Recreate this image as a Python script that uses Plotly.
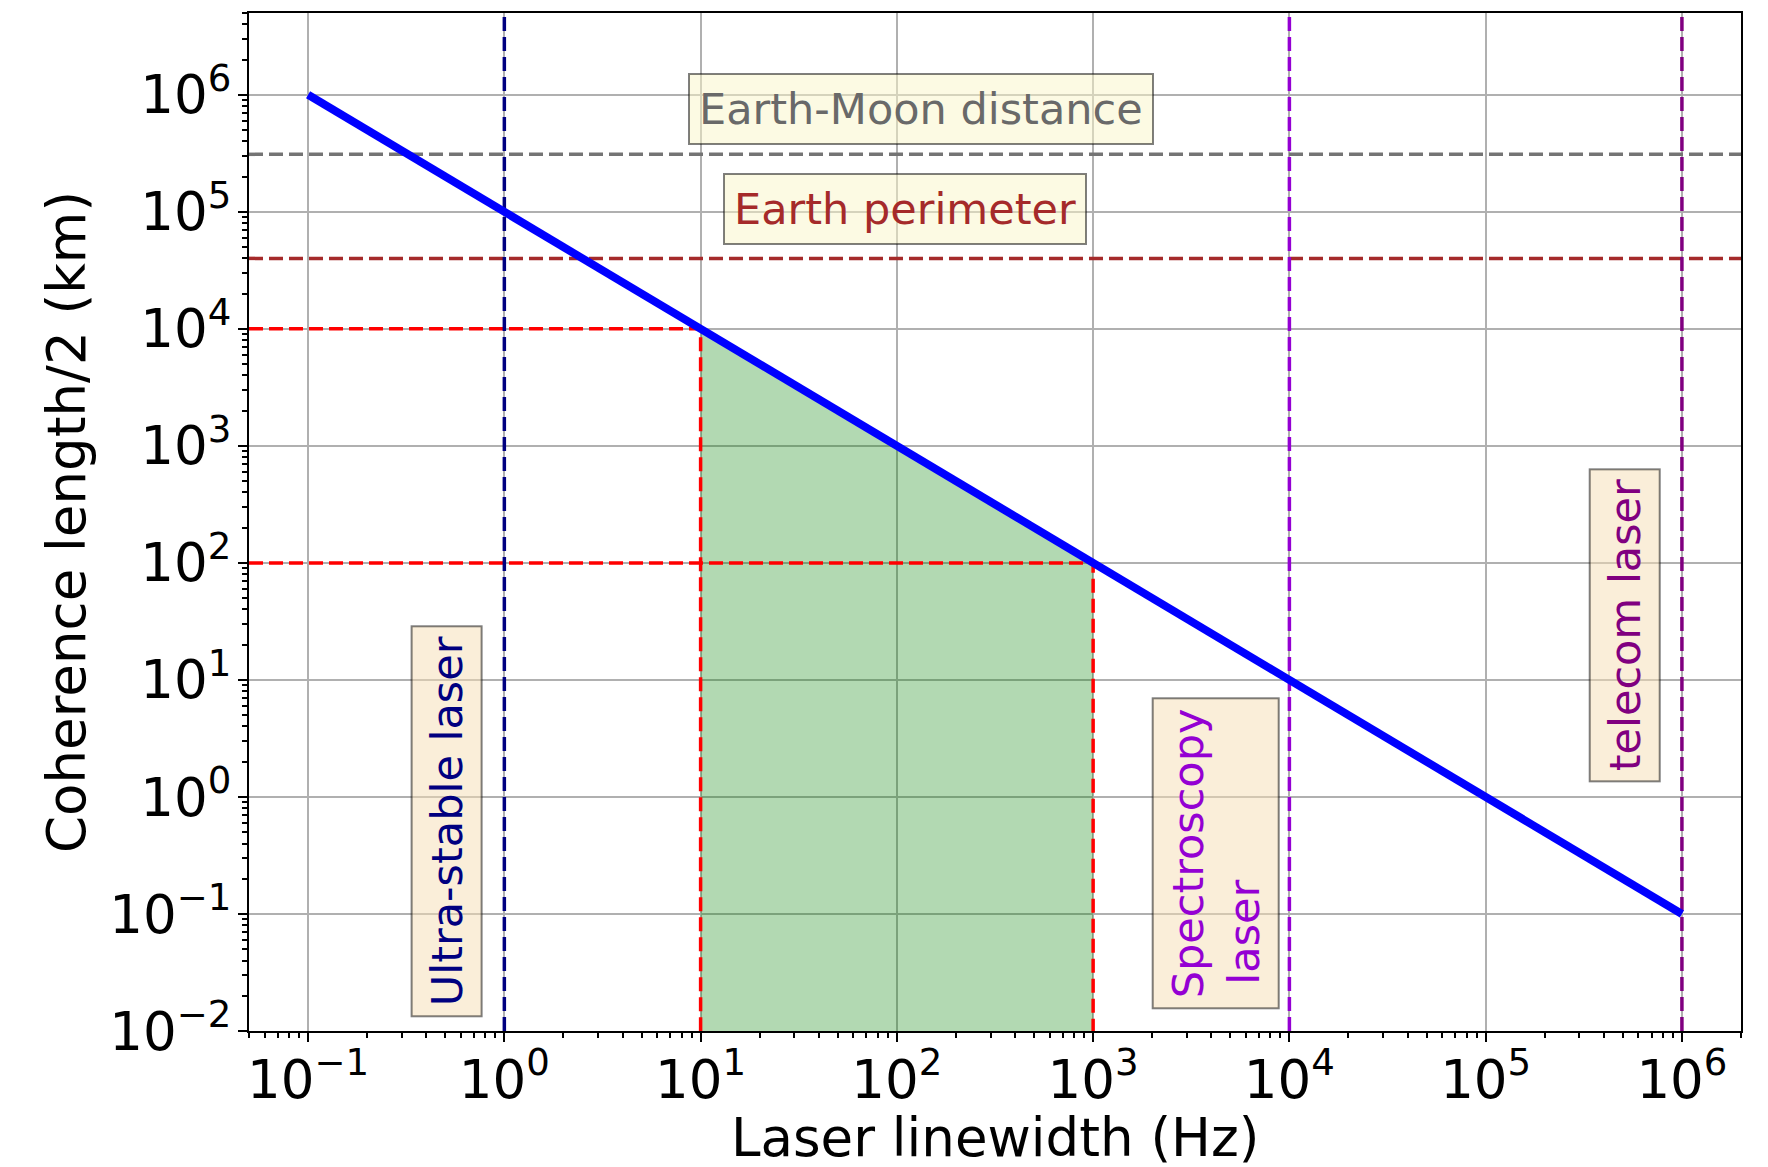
import numpy as np
import plotly.graph_objects as go

# ---------------- data ----------------
linewidth_hz = [0.1, 1, 10, 100, 1e3, 1e4, 1e5, 1e6]
coherence_km = [1e6, 1e5, 1e4, 1e3, 1e2, 1e1, 1e0, 1e-1]

x_lim = [0.05, 2e6]
y_lim = [1e-2, 5e6]

earth_moon_km = 3.1e5
earth_perimeter_km = 4.0e4

band_x = [10, 100, 1000]
band_y = [1e4, 1e3, 1e2]

laser_x = [1, 1e4, 1e6]
laser_colors = ["navy", "darkviolet", "purple"]

x_tick_vals = [0.1, 1, 10, 100, 1e3, 1e4, 1e5, 1e6]
x_tick_text = ["10<sup>−1</sup>", "10<sup>0</sup>", "10<sup>1</sup>", "10<sup>2</sup>",
               "10<sup>3</sup>", "10<sup>4</sup>", "10<sup>5</sup>", "10<sup>6</sup>"]
y_tick_vals = [1e-2, 1e-1, 1, 10, 100, 1e3, 1e4, 1e5, 1e6]
y_tick_text = ["10<sup>−2</sup>", "10<sup>−1</sup>", "10<sup>0</sup>", "10<sup>1</sup>",
               "10<sup>2</sup>", "10<sup>3</sup>", "10<sup>4</sup>", "10<sup>5</sup>",
               "10<sup>6</sup>"]

# label texts and anchor positions (data units)
label_text = ["Earth-Moon distance", "Earth perimeter", "Ultra-stable laser",
              "Spectroscopy<br>\u00a0laser", "telecom laser"]
label_x = [133, 110, 0.507, 4227, 5.1e5]
label_y = [7.5e5, 1.05e5, 0.625, 0.33, 29]
label_color = ["dimgray", "brown", "navy", "darkviolet", "purple"]
label_angle = [0, 0, -90, -90, -90]
label_bg = ["rgba(250,245,200,0.5)", "rgba(250,245,200,0.5)",
            "rgba(245,222,179,0.5)", "rgba(245,222,179,0.5)", "rgba(245,222,179,0.5)"]

FONT = "DejaVu Sans"


def minor_vals(lo, hi):
    out = []
    for e in range(int(np.floor(np.log10(lo))), int(np.ceil(np.log10(hi))) + 1):
        for m in range(2, 10):
            v = m * 10.0 ** e
            if lo <= v <= hi:
                out.append(v)
    return out


fig = go.Figure()

# green band under the curve between 10 Hz and 1 kHz
fig.add_trace(go.Scatter(
    x=[band_x[0]] + band_x + [band_x[-1]],
    y=[y_lim[0]] + band_y + [y_lim[0]],
    fill="toself", fillcolor="rgba(0,128,0,0.3)",
    line=dict(width=0), mode="lines", hoverinfo="skip", showlegend=False))

dash = "14px,6px"
LW = 3.5
# reference horizontal lines
fig.add_trace(go.Scatter(x=x_lim, y=[earth_moon_km] * 2, mode="lines",
                         line=dict(color="#747474", width=LW, dash=dash), showlegend=False))
fig.add_trace(go.Scatter(x=x_lim, y=[earth_perimeter_km] * 2, mode="lines",
                         line=dict(color="brown", width=LW, dash=dash), showlegend=False))

# red guide lines for band limits
for bx, by in [(band_x[0], band_y[0]), (band_x[-1], band_y[-1])]:
    fig.add_trace(go.Scatter(x=[x_lim[0], bx, bx], y=[by, by, y_lim[0]], mode="lines",
                             line=dict(color="red", width=LW, dash=dash), showlegend=False))

# laser vertical lines
for lx, lc in zip(laser_x, laser_colors):
    fig.add_trace(go.Scatter(x=[lx, lx], y=y_lim, mode="lines",
                             line=dict(color=lc, width=LW, dash=dash), showlegend=False))

# main curve
fig.add_trace(go.Scatter(x=linewidth_hz, y=coherence_km, mode="lines",
                         line=dict(color="blue", width=8), showlegend=False))

annotations = []
for t, lx, ly, c, a, bg in zip(label_text, label_x, label_y, label_color, label_angle, label_bg):
    annotations.append(dict(
        x=np.log10(lx), y=np.log10(ly), xref="x", yref="y", text=t, showarrow=False,
        textangle=a, font=dict(family=FONT, size=43, color=c),
        bgcolor=bg, bordercolor="rgba(0,0,0,0.5)", borderwidth=2, borderpad=9,
        xanchor="center", yanchor="middle", align="left"))

# axis titles
annotations.append(dict(text="Laser linewidth (Hz)", x=0.5, y=-0.105, xref="paper", yref="paper",
                        showarrow=False, xanchor="center", yanchor="middle",
                        font=dict(family=FONT, size=53, color="black")))
annotations.append(dict(text="Coherence length/2 (km)", x=-0.1227, y=0.5, xref="paper", yref="paper",
                        showarrow=False, xanchor="center", yanchor="middle", textangle=-90,
                        font=dict(family=FONT, size=53, color="black")))

axis_common = dict(
    type="log", showgrid=True, gridcolor="#b0b0b0", gridwidth=1.5,
    ticks="outside", ticklen=9, tickwidth=2, tickcolor="black",
    showline=True, linecolor="black", linewidth=2, mirror=True,
    tickmode="array", tickfont=dict(family=FONT, size=53, color="black"),
    zeroline=False,
)

fig.update_layout(
    width=1768, height=1167, autosize=False,
    margin=dict(l=249, r=27, t=13, b=136),
    paper_bgcolor="white", plot_bgcolor="white",
    font=dict(family=FONT),
    annotations=annotations,
    xaxis=dict(axis_common, range=[np.log10(x_lim[0]), np.log10(x_lim[1])],
               tickvals=x_tick_vals, ticktext=x_tick_text, ticklabelstandoff=-8,
               minor=dict(tickmode="array", tickvals=minor_vals(*x_lim), ticks="outside",
                          ticklen=5, tickwidth=1.5, tickcolor="black", showgrid=False)),
    yaxis=dict(axis_common, range=[np.log10(y_lim[0]), np.log10(y_lim[1])],
               tickvals=y_tick_vals, ticktext=y_tick_text, ticklabelstandoff=-4,
               minor=dict(tickmode="array", tickvals=minor_vals(*y_lim), ticks="outside",
                          ticklen=5, tickwidth=1.5, tickcolor="black", showgrid=False)),
)

fig.write_html("out.html")
